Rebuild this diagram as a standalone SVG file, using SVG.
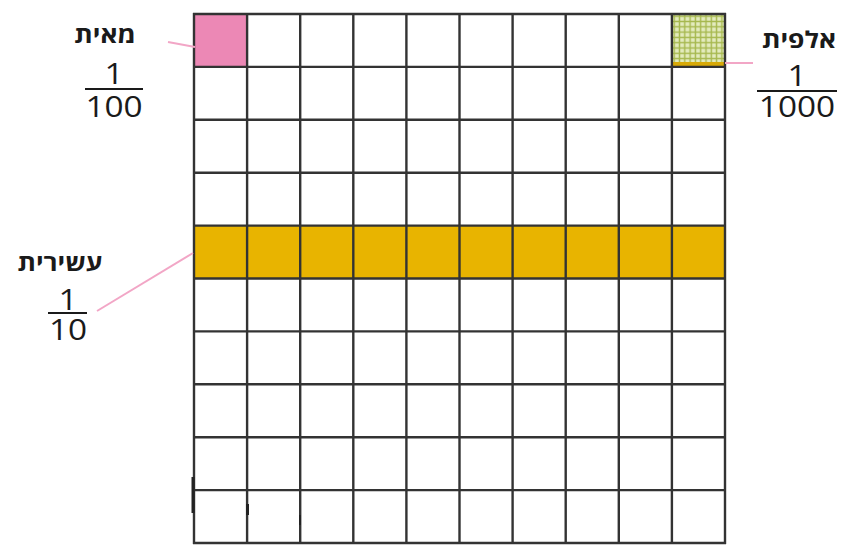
<svg xmlns="http://www.w3.org/2000/svg" width="843" height="552" viewBox="0 0 843 552">
<defs>
<style>
.grid line{stroke:#333333;stroke-width:2.4}
.lead{stroke:#f2a6c6;stroke-width:2;fill:none}
.lbl{font-family:"Open Sans","Noto Sans","DejaVu Sans",sans-serif;font-weight:700;font-size:23px;fill:#1a1a1a;text-anchor:middle}
.num{font-family:"Open Sans","Noto Sans","DejaVu Sans",sans-serif;font-size:29px;fill:#1a1a1a;text-anchor:middle}
.bar{stroke:#1a1a1a;stroke-width:2.2}
.mark{stroke:#222;stroke-linecap:butt}
</style>
<pattern id="thou" x="672" y="14" width="5.3" height="5.3" patternUnits="userSpaceOnUse">
<rect width="5.3" height="5.3" fill="#e3ebbd"/>
<rect x="1.5" y="0" width="1.4" height="5.3" fill="#a6b84e"/>
<rect x="0" y="1.5" width="5.3" height="1.4" fill="#a6b84e"/>
</pattern>
</defs>
<rect width="843" height="552" fill="#ffffff"/>
<g id="fills">
<rect x="194" y="14" width="53.1" height="52.9" fill="#ec88b5"/>
<rect x="194" y="226" width="531" height="53" fill="#e8b400"/>
<rect x="672" y="14" width="53" height="49" fill="url(#thou)"/>
<rect x="672" y="62" width="53" height="5" fill="#d8aa08"/>
</g>
<g id="grid" class="grid">
<line x1="194" y1="13" x2="194" y2="544"/>
<line x1="247.1" y1="13" x2="247.1" y2="544"/>
<line x1="300.2" y1="13" x2="300.2" y2="544"/>
<line x1="353.3" y1="13" x2="353.3" y2="544"/>
<line x1="406.4" y1="13" x2="406.4" y2="544"/>
<line x1="459.5" y1="13" x2="459.5" y2="544"/>
<line x1="512.6" y1="13" x2="512.6" y2="544"/>
<line x1="565.7" y1="13" x2="565.7" y2="544"/>
<line x1="618.8" y1="13" x2="618.8" y2="544"/>
<line x1="671.9" y1="13" x2="671.9" y2="544"/>
<line x1="725" y1="13" x2="725" y2="544"/>
<line x1="193" y1="14" x2="726" y2="14"/>
<line x1="193" y1="66.9" x2="726" y2="66.9"/>
<line x1="193" y1="119.8" x2="726" y2="119.8"/>
<line x1="193" y1="172.7" x2="726" y2="172.7"/>
<line x1="193" y1="225.6" x2="726" y2="225.6"/>
<line x1="193" y1="278.5" x2="726" y2="278.5"/>
<line x1="193" y1="331.4" x2="726" y2="331.4"/>
<line x1="193" y1="384.3" x2="726" y2="384.3"/>
<line x1="193" y1="437.2" x2="726" y2="437.2"/>
<line x1="193" y1="490.1" x2="726" y2="490.1"/>
<line x1="193" y1="543" x2="726" y2="543"/>
</g>
<g id="marks">
<line class="mark" x1="193" y1="477" x2="193" y2="513" stroke-width="3"/>
<line class="mark" x1="247.5" y1="504" x2="247.5" y2="515" stroke-width="3"/>
<line class="mark" x1="300" y1="515" x2="300" y2="525" stroke-width="2" stroke="#555"/>
</g>
<g id="connectors">
<line class="lead" x1="168" y1="42" x2="195" y2="47"/>
<line class="lead" x1="725" y1="63" x2="753" y2="63"/>
<line class="lead" x1="97" y1="311" x2="193" y2="253"/>
</g>
<g id="hundredth">
<text class="lbl" transform="translate(105,43) scale(1.15,1)">מאית</text>
<text class="num" transform="translate(114,84) scale(1.15,1)">1</text>
<line class="bar" x1="85" y1="89" x2="143" y2="89"/>
<text class="num" transform="translate(114,117) scale(1.15,1)">100</text>
</g>
<g id="thousandth">
<text class="lbl" transform="translate(799,48) scale(1.15,1)">אלפית</text>
<text class="num" transform="translate(797,86) scale(1.15,1)">1</text>
<line class="bar" x1="757" y1="91" x2="837" y2="91"/>
<text class="num" transform="translate(797,117) scale(1.15,1)">1000</text>
</g>
<g id="tenth">
<text class="lbl" transform="translate(60,271) scale(1.15,1)">עשירית</text>
<text class="num" transform="translate(68,310) scale(1.15,1)">1</text>
<line class="bar" x1="48" y1="313" x2="87" y2="313"/>
<text class="num" transform="translate(68,340) scale(1.15,1)">10</text>
</g>
</svg>
